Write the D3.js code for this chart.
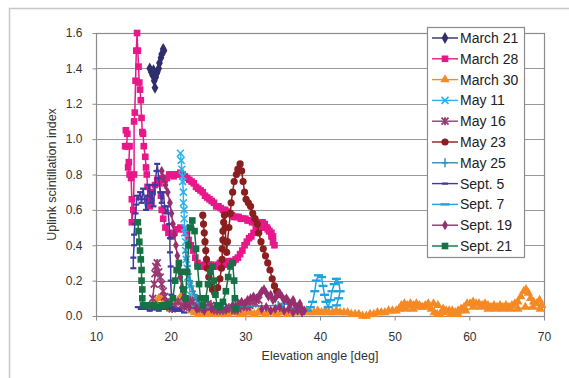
<!DOCTYPE html>
<html>
<head>
<meta charset="utf-8">
<script src="https://cdn.jsdelivr.net/npm/d3@7"></script>
<style>
  html, body { margin: 0; padding: 0; background: #fff; overflow: hidden; }
  svg text { font-family: "Liberation Sans", Arial, sans-serif; }
</style>
</head>
<body>
<svg id="chart" width="569" height="378"></svg>
<script>
// ---- Data: [elevation angle (deg), uplink scintillation index] ----
const march21 = [[17.2,1.40],[17.4,1.38],[17.6,1.36],[17.7,1.39],[17.8,1.33],[17.9,1.29],[18.0,1.35],[18.1,1.37],[18.2,1.38],[18.4,1.40],[18.5,1.43],[18.7,1.46],[18.8,1.48],[19.0,1.51],[19.1,1.50]];

const march28 = [[14.0,1.05],[14.2,1.03],[14.1,0.96],[13.9,0.96],[14.3,0.96],[14.5,0.96],[14.4,0.87],[14.3,0.84],[14.5,0.80],[14.7,0.78],[14.8,0.66],[14.8,0.53],[15.0,0.60],[15.1,0.80],[15.1,1.10],[15.2,1.15],[15.3,1.33],[15.4,1.50],[15.5,1.60],[15.6,1.50],[15.7,1.41],[15.8,1.32],[15.9,1.28],[16.0,1.22],[16.1,1.12],[16.2,1.04],[16.3,1.03],[16.4,0.96],[16.6,0.90],[16.7,0.84],[16.8,0.80],[16.9,0.73],[17.0,0.66],[17.2,0.62],[17.4,0.64],[17.6,0.70],[17.9,0.74],[18.2,0.77],[18.5,0.75],
  [18.7,0.68],[18.8,0.60],[19.0,0.55],[19.3,0.50],[19.7,0.47],[20.1,0.45],[20.5,0.47],[20.9,0.49],[21.3,0.50],[21.7,0.49],[22.1,0.47],[22.4,0.43],[22.7,0.40],[23.0,0.37],[23.3,0.33],[23.6,0.30],[23.9,0.28],[24.2,0.28],[24.5,0.29],[24.8,0.28],[25.1,0.29],[25.4,0.29],[25.7,0.28],[26.0,0.28],[26.3,0.29],[26.6,0.30],[26.9,0.30],[27.2,0.29],[27.5,0.30],[27.8,0.31],[28.1,0.31],[28.4,0.31],[28.7,0.32],[29.0,0.33],[29.3,0.35],[29.6,0.37],[29.9,0.40],[30.2,0.42],[30.5,0.44],[30.8,0.45],[31.1,0.47],[31.4,0.49],[31.7,0.51],[32.0,0.52],[32.3,0.53],[32.6,0.52],[32.9,0.50],[33.2,0.48],[33.5,0.45],[33.7,0.42],[33.9,0.40],
  [33.7,0.45],[33.5,0.47],[33.2,0.48],[33.0,0.49],[32.7,0.50],[32.4,0.50],[32.1,0.51],[31.8,0.52],[31.5,0.53],[31.2,0.53],[30.9,0.53],[30.6,0.54],[30.3,0.54],[30.0,0.55],[29.7,0.55],[29.4,0.55],[29.1,0.56],[28.8,0.56],[28.5,0.56],[28.2,0.57],[27.9,0.58],[27.6,0.59],[27.3,0.60],[27.0,0.60],[26.7,0.61],[26.4,0.62],[26.1,0.62],[25.8,0.64],[25.5,0.65],[25.2,0.66],[24.9,0.67],[24.6,0.68],[24.3,0.70],[24.0,0.71],[23.7,0.72],[23.4,0.73],[23.1,0.75],[22.8,0.76],[22.5,0.77],[22.2,0.78],[21.9,0.79],[21.6,0.80],[21.3,0.81],[21.0,0.80],[20.7,0.80],[20.4,0.79],[20.1,0.80],[19.8,0.80],[19.5,0.78],[19.2,0.77],[18.9,0.78]];

const march30 = [[18.0,0.08],[18.4,0.10],[18.8,0.11],[19.2,0.09],[19.6,0.06],[20.0,0.04],[20.5,0.05],[21.0,0.09],[21.5,0.12],[21.9,0.11],[22.3,0.07],[22.7,0.03],[23.2,0.02],[23.7,0.01],[24.2,0.02],[24.7,0.01],[25.2,0.02],[25.7,0.01],[26.2,0.01],[26.7,0.02],[27.2,0.01],[27.7,0.01],[28.2,0.02],[28.7,0.02],[29.2,0.01],[29.7,0.01],[30.2,0.02],[30.7,0.02],[31.2,0.01],[31.7,0.02],[32.2,0.02],[32.7,0.01],[33.2,0.02],[33.7,0.02],[34.2,0.01],[34.7,0.02],[35.2,0.02],[35.7,0.01],[36.2,0.02],[36.7,0.02],[37.2,0.02],[37.7,0.02],[38.2,0.03],[38.7,0.02],[39.2,0.02],[39.7,0.03],[40.2,0.02],[40.7,0.03],[41.2,0.02],[41.7,0.02],[42.2,0.03],[42.7,0.02],[43.2,0.02],[43.7,0.02],[44.2,0.01],[44.7,0.01],[45.2,0.01],[45.7,0.00],[46.2,0.00],[46.7,0.01],[47.2,0.01],[47.7,0.02],[48.2,0.02],[48.7,0.02],[49.2,0.03],[49.7,0.03],[50.2,0.03],[50.6,0.04],[50.9,0.06],[51.3,0.07],[51.7,0.06],[52.1,0.07],[52.5,0.06],[52.9,0.07],[53.3,0.06],[53.7,0.05],[54.1,0.06],[54.5,0.05],[54.9,0.04],[55.3,0.02],[55.7,0.01],[56.1,0.01],[56.5,0.02],[56.9,0.03],[57.3,0.03],[57.7,0.03],[58.1,0.02],[58.5,0.03],[58.9,0.04],[59.3,0.05],[59.7,0.07],[60.1,0.07],[60.5,0.08],[60.9,0.07],[61.3,0.07],[61.7,0.06],[62.1,0.07],[62.5,0.06],[62.9,0.05],[63.3,0.06],[63.7,0.05],[64.1,0.06],[64.5,0.05],[64.9,0.06],[65.3,0.05],[65.7,0.06],[66.1,0.07],[66.5,0.08],[66.9,0.11],[67.3,0.14],[67.6,0.15],[67.9,0.13],[68.2,0.10],[68.6,0.08],[69.0,0.07],[69.4,0.09],[69.7,0.06],[69.5,0.04],
  [68.5,0.05],[67.5,0.05],[66.5,0.04],[65.5,0.04],[64.5,0.04],[63.5,0.04],[62.5,0.04],[61.5,0.05],[60.5,0.05],[59.5,0.03],[58.5,0.01],[57.5,0.01],[56.5,0.04],[55.8,0.06],[55.2,0.07],[54.5,0.07],[53.5,0.05],[52.5,0.04],[51.5,0.04],[50.8,0.05]];

const may11 = [[21.3,0.92],[21.4,0.88],[21.5,0.83],[21.6,0.79],[21.6,0.76],[21.7,0.70],[21.7,0.64],[21.8,0.60],[21.8,0.55],[21.9,0.50],[21.9,0.47],[22.0,0.42],[22.0,0.37],[22.1,0.32],[22.2,0.27],[22.3,0.22],[22.5,0.17],[22.6,0.12],[22.8,0.08],[23.1,0.05]];

const may16 = [[17.4,0.05],[17.6,0.10],[17.8,0.18],[17.9,0.24],[18.0,0.28],[18.2,0.30],[18.4,0.25],[18.6,0.22],[18.8,0.18],[19.0,0.14],[19.2,0.11],[19.4,0.08],[19.6,0.06],[19.9,0.05],[20.2,0.04],[20.6,0.06],[21.0,0.08],[21.4,0.06],[21.8,0.05],[22.2,0.07],[22.6,0.09],[23.0,0.08],[23.4,0.06],[23.8,0.05],[24.2,0.04],[24.6,0.05],[25.0,0.07],[25.4,0.06],[25.8,0.04],[26.2,0.03],[26.6,0.04],[27.0,0.03],[27.4,0.04],[27.8,0.05],[28.2,0.04],[28.6,0.03],[29.0,0.04],[29.4,0.05],[29.8,0.06],[30.2,0.05],[30.6,0.06],[31.0,0.08],[31.4,0.07],[31.8,0.09]];

const may23 = [[24.3,0.57],[24.4,0.52],[24.5,0.47],[24.6,0.42],[24.7,0.37],[24.8,0.32],[24.9,0.27],[25.1,0.22],[25.3,0.18],[25.6,0.15],[25.9,0.13],[26.3,0.16],[26.6,0.21],[26.8,0.27],[26.9,0.32],[26.9,0.38],[27.0,0.43],[27.0,0.48],[27.1,0.53],[27.2,0.57],[27.3,0.50],[27.4,0.42],[27.5,0.36],[27.6,0.42],[27.8,0.50],[28.0,0.58],[28.1,0.64],[28.3,0.70],[28.5,0.76],[28.8,0.80],[29.0,0.83],[29.3,0.86],[29.5,0.82],[29.7,0.76],[29.9,0.70],[30.1,0.66],[30.4,0.64],[30.7,0.62],[31.0,0.58],[31.3,0.55],[31.6,0.52],[31.8,0.47],[32.1,0.42],[32.4,0.38],[32.7,0.34],[33.0,0.30],[33.3,0.26],[33.6,0.21],[33.9,0.17],[34.2,0.14],[34.5,0.12]];

const may25 = [[22.0,0.36],[22.1,0.32],[22.3,0.28],[22.4,0.24],[22.6,0.20],[22.8,0.17],[23.0,0.14],[23.2,0.12],[23.5,0.10],[23.8,0.07],[24.1,0.05],[34.4,0.06],[34.8,0.05],[35.2,0.07]];

const sept5 = [[15.0,0.27],[15.0,0.33],[15.1,0.40],[15.1,0.46],[15.2,0.52],[15.3,0.58],[15.4,0.63],[15.5,0.68],[15.7,0.66],[15.9,0.70],[16.1,0.64],[16.3,0.72],[16.5,0.66],[16.7,0.60],[16.9,0.68],[17.1,0.74],[17.3,0.64],[17.5,0.70],[17.7,0.62],[17.9,0.74],[18.1,0.82],[18.2,0.86],[18.4,0.78],[18.6,0.70],[18.8,0.64],[19.0,0.70],[19.2,0.62],[19.4,0.58],[19.6,0.62],[19.8,0.52],[19.9,0.44],[19.9,0.36],[20.0,0.28],[20.0,0.20],[20.1,0.12],[20.1,0.05],[20.6,0.03],[21.2,0.03],[21.8,0.02],[21.0,0.04],[20.4,0.04],[19.6,0.04],[19.0,0.04],[18.4,0.03],[17.8,0.04],[17.2,0.03],[16.6,0.04],[16.0,0.04],[15.6,0.05]];

const sept7 = [[34.5,0.05],[35.5,0.07],[36.5,0.04],[37.5,0.03],[38.3,0.03],[38.7,0.05],[39.0,0.08],[39.3,0.14],[39.5,0.20],[39.8,0.23],[40.2,0.22],[40.4,0.17],[40.6,0.12],[40.8,0.08],[41.1,0.05],[41.4,0.09],[41.6,0.14],[41.9,0.18],[42.2,0.21],[42.5,0.19],[42.7,0.14],[42.5,0.10],[42.2,0.06]];

const sept19 = [[18.8,0.82],[19.0,0.78],[19.3,0.74],[19.6,0.70],[19.9,0.64],[20.1,0.58],[20.3,0.52],[20.5,0.46],[20.7,0.40],[20.9,0.34],[21.1,0.28],[21.3,0.22],[21.5,0.16],[21.7,0.10],[22.0,0.06],[22.5,0.05],[23.5,0.04],[24.5,0.03],[25.5,0.04],[26.5,0.05],[27.5,0.04],[28.3,0.06],[28.7,0.05],[29.1,0.07],[29.5,0.08],[29.9,0.07],[30.3,0.09],[30.7,0.10],[31.1,0.11],[31.5,0.10],[31.9,0.12],[32.2,0.14],[32.5,0.15],[32.8,0.13],[33.1,0.11],[33.4,0.12],[33.7,0.09],[34.0,0.10],[34.3,0.12],[34.6,0.13],[34.9,0.11],[35.2,0.09],[35.5,0.10],[35.8,0.08],[36.1,0.07],[36.4,0.09],[36.7,0.06],[37.0,0.05],[37.3,0.07],[37.6,0.04],[37.9,0.03],[37.6,0.02],[37.0,0.03],[36.4,0.02],[35.8,0.04],[35.2,0.03],[34.6,0.05],[34.0,0.04],[33.4,0.03],[32.8,0.05],[32.2,0.04]];

const sept21 = [[15.6,0.53],[15.7,0.48],[15.8,0.42],[15.9,0.37],[16.0,0.32],[16.1,0.26],[16.1,0.20],[16.2,0.15],[16.2,0.10],[16.3,0.06],[16.8,0.06],[17.3,0.06],[17.8,0.06],[18.3,0.05],[18.8,0.06],[19.3,0.06],[19.8,0.07],[20.3,0.10],[20.6,0.20],[20.8,0.26],[21.1,0.30],[21.4,0.25],[21.7,0.15],[22.0,0.10],[22.2,0.25],[22.4,0.40],[22.6,0.50],[22.9,0.54],[23.2,0.48],[23.4,0.38],[23.6,0.28],[23.8,0.18],[24.0,0.10],[24.3,0.06],[24.7,0.10],[25.0,0.18],[25.3,0.25],[25.6,0.28],[25.8,0.20],[26.0,0.12],[26.2,0.06],[26.6,0.05],[27.0,0.08],[27.4,0.14],[27.7,0.22],[28.0,0.28],[28.3,0.30],[28.5,0.20],[28.6,0.10],[28.7,0.04]];

const seriesNames  = ["March 21","March 28","March 30","May 11","May 16","May 23","May 25","Sept. 5","Sept. 7","Sept. 19","Sept. 21"];
const seriesValues = [march21, march28, march30, may11, may16, may23, may25, sept5, sept7, sept19, sept21];
const seriesColors = ["#2f2f6c","#e8178a","#f58a25","#2bb3ea","#9a3a72","#8a1f1f","#2f90b8","#3d3aa0","#1fa4df","#972f6e","#167244"];
const seriesMarks  = ["diamond","square","triangle","cross","star","circle","plus","dot","dash","smalldiamond","square"];

const xTicks = [10, 20, 30, 40, 50, 60, 70];
const yTicks = [0, 0.2, 0.4, 0.6, 0.8, 1.0, 1.2, 1.4, 1.6];

// ---- Layout ----
const svg = d3.select("#chart");
const plot = { left: 96, right: 544, top: 33, bottom: 316 };
const x = d3.scaleLinear().domain([10, 70]).range([plot.left, plot.right]);
const y = d3.scaleLinear().domain([0, 1.6]).range([plot.bottom, plot.top]);

// outer chart frame
svg.append("rect")
  .attr("x", 9.5).attr("y", 8.5).attr("width", 600).attr("height", 400)
  .attr("fill", "#fff").attr("stroke", "#c8c8c8").attr("stroke-width", 1.5);

// horizontal gridlines
svg.append("g").selectAll("line").data(yTicks).join("line")
  .attr("x1", plot.left).attr("x2", plot.right)
  .attr("y1", d => Math.round(y(d)) + 0.5).attr("y2", d => Math.round(y(d)) + 0.5)
  .attr("stroke", "#999").attr("stroke-width", 1.2);

// plot area border
svg.append("rect")
  .attr("x", plot.left + 0.5).attr("y", plot.top + 0.5)
  .attr("width", plot.right - plot.left).attr("height", plot.bottom - plot.top)
  .attr("fill", "none").attr("stroke", "#8c8c8c").attr("stroke-width", 1.2);

// axes
const xAxis = svg.append("g")
  .attr("transform", `translate(0,${plot.bottom + 0.5})`)
  .call(d3.axisBottom(x).tickValues(xTicks).tickFormat(d3.format("d")).tickSize(4).tickPadding(12));
const yAxis = svg.append("g")
  .attr("transform", `translate(${plot.left + 0.5},0)`)
  .call(d3.axisLeft(y).tickValues(yTicks).tickFormat(d3.format(".1f")).tickSize(4).tickPadding(10));
[xAxis, yAxis].forEach(g => {
  g.select(".domain").remove();
  g.selectAll(".tick line").attr("stroke", "#8c8c8c");
  g.selectAll(".tick text").attr("fill", "#333").style("font-size", "12px")
    .style("font-family", "'Liberation Sans', Arial, sans-serif");
});

// axis titles
svg.append("text")
  .attr("x", (plot.left + plot.right) / 2).attr("y", 360)
  .attr("text-anchor", "middle").attr("fill", "#333").style("font-size", "12.5px")
  .text("Elevation angle [deg]");
svg.append("text")
  .attr("transform", `translate(56,${(plot.top + plot.bottom) / 2}) rotate(-90)`)
  .attr("text-anchor", "middle").attr("fill", "#333").style("font-size", "12.5px")
  .text("Uplink scintillation index");

// ---- Marker drawing ----
function drawMarker(sel, type, color) {
  switch (type) {
    case "diamond":
      sel.append("path").attr("d", d3.symbol(d3.symbolDiamond, 40)()).attr("fill", color); break;
    case "smalldiamond":
      sel.append("path").attr("d", d3.symbol(d3.symbolDiamond, 30)()).attr("fill", color); break;
    case "square":
      sel.append("path").attr("d", d3.symbol(d3.symbolSquare, 44)()).attr("fill", color); break;
    case "triangle":
      sel.append("path").attr("d", d3.symbol(d3.symbolTriangle, 38)()).attr("fill", color); break;
    case "circle":
      sel.append("circle").attr("r", 3.6).attr("fill", color); break;
    case "cross":
      sel.append("path").attr("d", "M-3.5,-3.5L3.5,3.5M-3.5,3.5L3.5,-3.5").attr("stroke", color).attr("stroke-width", 1.6).attr("fill", "none"); break;
    case "star":
      sel.append("path").attr("d", "M-3.5,-3.5L3.5,3.5M-3.5,3.5L3.5,-3.5M0,-4L0,4").attr("stroke", color).attr("stroke-width", 1.8).attr("fill", "none"); break;
    case "plus":
      sel.append("path").attr("d", "M0,-4.5L0,4.5M-3,0L3,0").attr("stroke", color).attr("stroke-width", 1.5).attr("fill", "none"); break;
    case "dot":
      sel.append("path").attr("d", "M-3,0L3,0").attr("stroke", color).attr("stroke-width", 2.2).attr("fill", "none"); break;
    case "dash":
      sel.append("path").attr("d", "M-4.5,0L4.5,0").attr("stroke", color).attr("stroke-width", 2.4).attr("fill", "none"); break;
  }
}

// ---- Series ----
const line = d3.line().x(d => x(d[0])).y(d => y(d[1]));
const seriesG = svg.append("g");
seriesValues.forEach((vals, i) => {
  const g = seriesG.append("g");
  g.append("path").datum(vals).attr("d", line)
    .attr("fill", "none").attr("stroke", seriesColors[i]).attr("stroke-width", 1.5);
  g.selectAll("g.pt").data(vals).join("g").attr("class", "pt")
    .attr("transform", d => `translate(${x(d[0])},${y(d[1])})`)
    .each(function () { drawMarker(d3.select(this), seriesMarks[i], seriesColors[i]); });
});

// ---- Legend ----
const legend = svg.append("g");
legend.append("rect")
  .attr("x", 427.5).attr("y", 27.5).attr("width", 97).attr("height", 230)
  .attr("fill", "#fff").attr("stroke", "#8c8c8c").attr("stroke-width", 1.2);
seriesNames.forEach((name, i) => {
  const cy = 38 + i * 20.8;
  const row = legend.append("g").attr("transform", `translate(0,${cy})`);
  row.append("line").attr("x1", 432).attr("x2", 458).attr("y1", 0).attr("y2", 0)
    .attr("stroke", seriesColors[i]).attr("stroke-width", 1.4);
  const m = row.append("g").attr("transform", "translate(445,0)");
  drawMarker(m, seriesMarks[i], seriesColors[i]);
  row.append("text").attr("x", 460).attr("y", 0).attr("dy", "0.36em")
    .attr("fill", "#222").style("font-size", "14px").text(name);
});
</script>
</body>
</html>
